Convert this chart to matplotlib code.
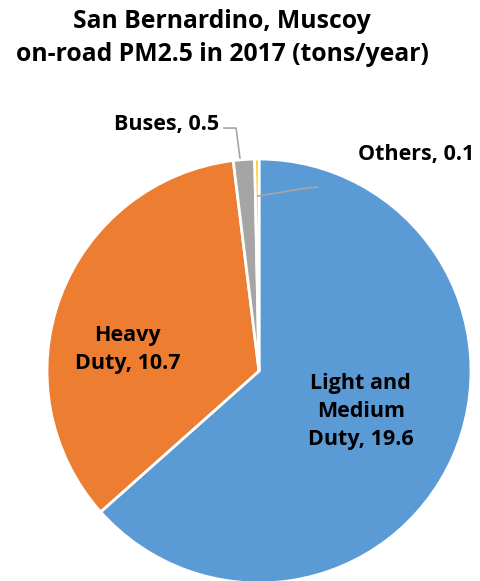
import matplotlib.pyplot as plt

categories = ['Light and\nMedium\nDuty', 'Heavy\nDuty', 'Buses', 'Others']
values = [19.6, 10.7, 0.5, 0.1]
colors = ['#5B9BD5', '#ED7D31', '#A5A5A5', '#FFC000']

plt.rcParams['font.family'] = ['Open Sans', 'DejaVu Sans']

fig = plt.figure(figsize=(4.81, 5.81), dpi=100)
# pie centre at about (259, 371) px, radius 212 px
ax = fig.add_axes([(259 - 212) / 481, (581 - 371 - 212) / 581, 424 / 481, 424 / 581])
ax.pie(values, colors=colors, startangle=90, counterclock=False, radius=1,
       wedgeprops=dict(edgecolor='white', linewidth=2))
ax.set_xlim(-1, 1)
ax.set_ylim(-1, 1)
ax.set_aspect('equal')
ax.axis('off')

lbl = dict(fontsize=15.5, fontweight='bold', color='black', linespacing=1.45)
ax.text(0.48, -0.19, f'{categories[0]}, {values[0]}', ha='center', va='center', **lbl)
ax.text(-0.62, 0.10, f'{categories[1]}, {values[1]}', ha='center', va='center', **lbl)
ax.text(-0.19, 1.165, f'{categories[2]}, {values[2]}', ha='right', va='center', clip_on=False, **lbl)
ax.text(0.465, 1.02, f'{categories[3]}, {values[3]}', ha='left', va='center', clip_on=False, **lbl)

# leader lines
ax.plot([-0.165, -0.108, -0.09], [1.146, 1.146, 1.005], color='#A6A6A6', lw=1.2, clip_on=False)
ax.plot([0.274, 0.193, -0.005], [0.868, 0.858, 0.825], color='#A6A6A6', lw=1.2, clip_on=False)

fig.text(222 / 481, 1 - 38 / 581, 'San Bernardino, Muscoy\non-road PM2.5 in 2017 (tons/year)',
         ha='center', va='center', fontsize=17.8, fontweight='bold', linespacing=1.4)

fig.savefig('out.png', dpi=100)
